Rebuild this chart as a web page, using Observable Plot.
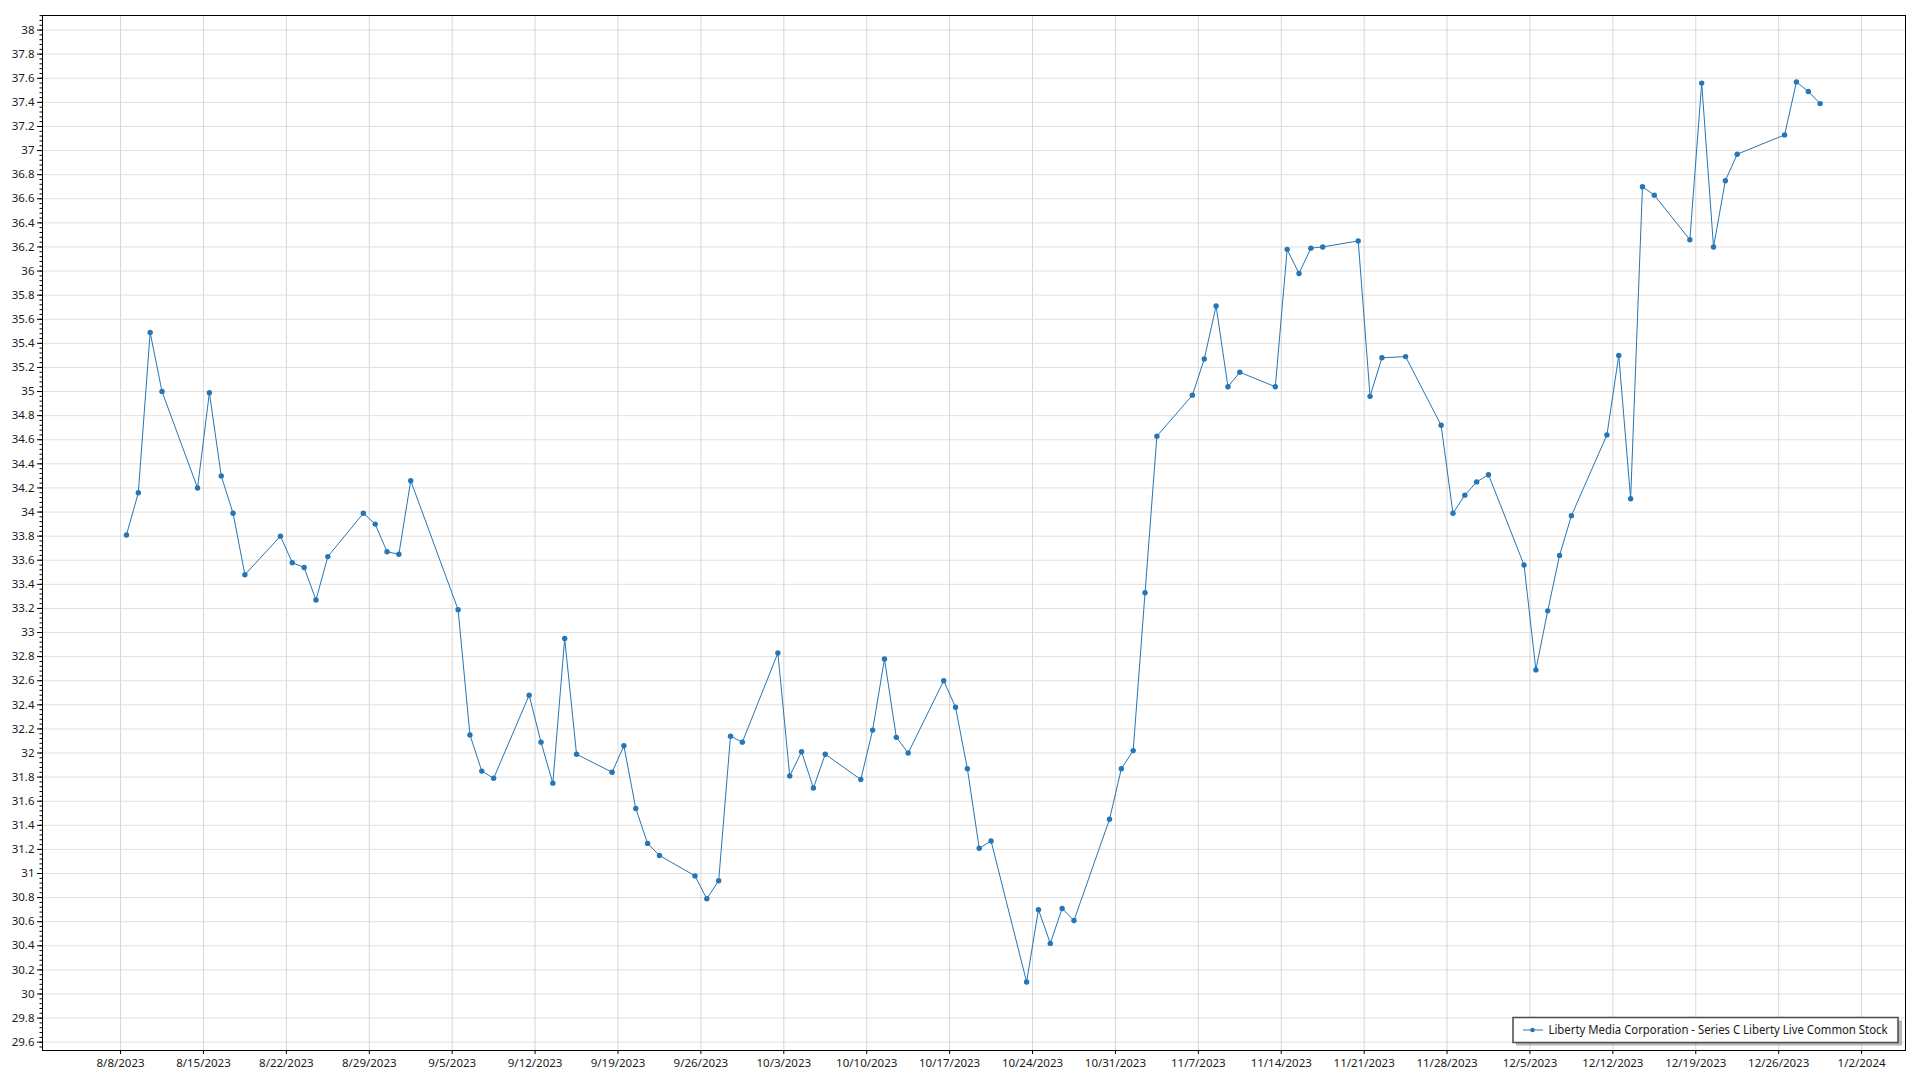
<!DOCTYPE html>
<html>
<head>
<meta charset="utf-8">
<script src="https://cdn.jsdelivr.net/npm/d3@7"></script>
<script src="https://cdn.jsdelivr.net/npm/@observablehq/plot@0.6"></script>
<style>
  html, body { margin: 0; padding: 0; background: #fff; }
  #wrap { position: relative; width: 1920px; height: 1080px; overflow: hidden; }
  #legend { position: absolute; left: 0; top: 0; pointer-events: none; }
</style>
</head>
<body>
<div id="wrap"></div>
<script>
const seriesName = "Liberty Media Corporation - Series C Liberty Live Common Stock";

const dates = [
  "2023-08-08","2023-08-09","2023-08-10","2023-08-11","2023-08-14","2023-08-15","2023-08-16","2023-08-17","2023-08-18",
  "2023-08-21","2023-08-22","2023-08-23","2023-08-24","2023-08-25","2023-08-28","2023-08-29","2023-08-30","2023-08-31",
  "2023-09-01","2023-09-05","2023-09-06","2023-09-07","2023-09-08","2023-09-11","2023-09-12","2023-09-13","2023-09-14",
  "2023-09-15","2023-09-18","2023-09-19","2023-09-20","2023-09-21","2023-09-22","2023-09-25","2023-09-26","2023-09-27",
  "2023-09-28","2023-09-29","2023-10-02","2023-10-03","2023-10-04","2023-10-05","2023-10-06","2023-10-09","2023-10-10",
  "2023-10-11","2023-10-12","2023-10-13","2023-10-16","2023-10-17","2023-10-18","2023-10-19","2023-10-20","2023-10-23",
  "2023-10-24","2023-10-25","2023-10-26","2023-10-27","2023-10-30","2023-10-31","2023-11-01","2023-11-02","2023-11-03",
  "2023-11-06","2023-11-07","2023-11-08","2023-11-09","2023-11-10","2023-11-13","2023-11-14","2023-11-15","2023-11-16",
  "2023-11-17","2023-11-20","2023-11-21","2023-11-22","2023-11-24","2023-11-27","2023-11-28","2023-11-29","2023-11-30",
  "2023-12-01","2023-12-04","2023-12-05","2023-12-06","2023-12-07","2023-12-08","2023-12-11","2023-12-12","2023-12-13",
  "2023-12-14","2023-12-15","2023-12-18","2023-12-19","2023-12-20","2023-12-21","2023-12-22","2023-12-26","2023-12-27",
  "2023-12-28","2023-12-29"
];

const prices = [
  33.81, 34.16, 35.49, 35.00, 34.20, 34.99, 34.30, 33.99, 33.48,
  33.80, 33.58, 33.54, 33.27, 33.63, 33.99, 33.90, 33.67, 33.65,
  34.26, 33.19, 32.15, 31.85, 31.79, 32.48, 32.09, 31.75, 32.95,
  31.99, 31.84, 32.06, 31.54, 31.25, 31.15, 30.98, 30.79, 30.94,
  32.14, 32.09, 32.83, 31.81, 32.01, 31.71, 31.99, 31.78, 32.19,
  32.78, 32.13, 32.00, 32.60, 32.38, 31.87, 31.21, 31.27, 30.10,
  30.70, 30.42, 30.71, 30.61, 31.45, 31.87, 32.02, 33.33, 34.63,
  34.97, 35.27, 35.71, 35.04, 35.16, 35.04, 36.18, 35.98, 36.19,
  36.20, 36.25, 34.96, 35.28, 35.29, 34.72, 33.99, 34.14, 34.25,
  34.31, 33.56, 32.69, 33.18, 33.64, 33.97, 34.64, 35.30, 34.11,
  36.70, 36.63, 36.26, 37.56, 36.20, 36.75, 36.97, 37.13, 37.57,
  37.49, 37.39
];

const xTickDates = [
  "2023-08-08","2023-08-15","2023-08-22","2023-08-29","2023-09-05","2023-09-12","2023-09-19","2023-09-26",
  "2023-10-03","2023-10-10","2023-10-17","2023-10-24","2023-10-31","2023-11-07","2023-11-14","2023-11-21",
  "2023-11-28","2023-12-05","2023-12-12","2023-12-19","2023-12-26","2024-01-02"
];

const yTickValues = [
  29.6, 29.8, 30, 30.2, 30.4, 30.6, 30.8, 31, 31.2, 31.4, 31.6, 31.8, 32, 32.2, 32.4, 32.6, 32.8,
  33, 33.2, 33.4, 33.6, 33.8, 34, 34.2, 34.4, 34.6, 34.8, 35, 35.2, 35.4, 35.6, 35.8,
  36, 36.2, 36.4, 36.6, 36.8, 37, 37.2, 37.4, 37.6, 37.8, 38
];

const xDomain = ["2023-08-01T09:50:00Z", "2024-01-05T17:00:00Z"];
const yDomain = [29.531, 38.121];

// ---- build ----
const lineColor = "#2576b6";
const data = dates.map((d, i) => ({ date: new Date(d + "T12:00:00Z"), price: prices[i] }));
const xTicks = xTickDates.map(d => new Date(d + "T00:00:00Z"));
const yMinor = d3.range(0, 215).map(i => +(29.56 + i * 0.04).toFixed(2)).filter(v => v <= yDomain[1]);
const fmtDate = d => `${d.getUTCMonth() + 1}/${d.getUTCDate()}/${d.getUTCFullYear()}`;
const fmtY = v => String(+v.toFixed(1));

const chart = Plot.plot({
  width: 1920,
  height: 1080,
  marginLeft: 42,
  marginTop: 15,
  marginRight: 15,
  marginBottom: 30,
  style: { fontFamily: "'Noto Sans', 'Open Sans', sans-serif", fontSize: "11.5px", color: "#1a1a1a", background: "#fff" },
  x: { type: "utc", domain: xDomain.map(d => new Date(d)) },
  y: { domain: yDomain },
  marks: [
    Plot.gridY(yTickValues, { stroke: "#e0e0e0", strokeOpacity: 1 }),
    Plot.gridX(xTicks, { stroke: "#d8d8d8", strokeOpacity: 1 }),
    Plot.axisY(yMinor, { tickSize: 2.5, tickFormat: () => "", label: null, stroke: "#000" }),
    Plot.axisY(yTickValues, { tickSize: 5, tickPadding: 3, tickFormat: fmtY, label: null, stroke: "#000" }),
    Plot.axisX(xTicks, { tickSize: 4, tickPadding: 4, tickFormat: fmtDate, label: null, stroke: "#000" }),
    Plot.frame({ stroke: "#000", strokeWidth: 1 }),
    Plot.line(data, { x: "date", y: "price", stroke: lineColor, strokeWidth: 1 }),
    Plot.dot(data, { x: "date", y: "price", r: 2.7, fill: lineColor, stroke: "none" })
  ]
});

const wrap = document.getElementById("wrap");
wrap.appendChild(chart);

// legend (overlay, bottom-right inside the plot area)
const ns = "http://www.w3.org/2000/svg";
const leg = document.createElementNS(ns, "svg");
leg.setAttribute("id", "legend");
leg.setAttribute("width", 1920);
leg.setAttribute("height", 1080);
leg.innerHTML = `
  <rect x="1516" y="1020.5" width="386" height="25" fill="#9a9a9a" opacity="0.7"/>
  <rect x="1513" y="1017.5" width="385" height="25" fill="#fff" stroke="#4a4a4a" stroke-width="1.5"/>
  <line x1="1523" x2="1543" y1="1030" y2="1030" stroke="#78acd8" stroke-width="1.6"/>
  <circle cx="1532.5" cy="1030" r="2.3" fill="${lineColor}"/>
  <text x="1548.5" y="1034.2" font-family="'Noto Sans', 'Open Sans', sans-serif" font-size="12" fill="#1a1a1a"
        textLength="339" lengthAdjust="spacingAndGlyphs">${seriesName}</text>`;
wrap.appendChild(leg);
</script>
</body>
</html>
